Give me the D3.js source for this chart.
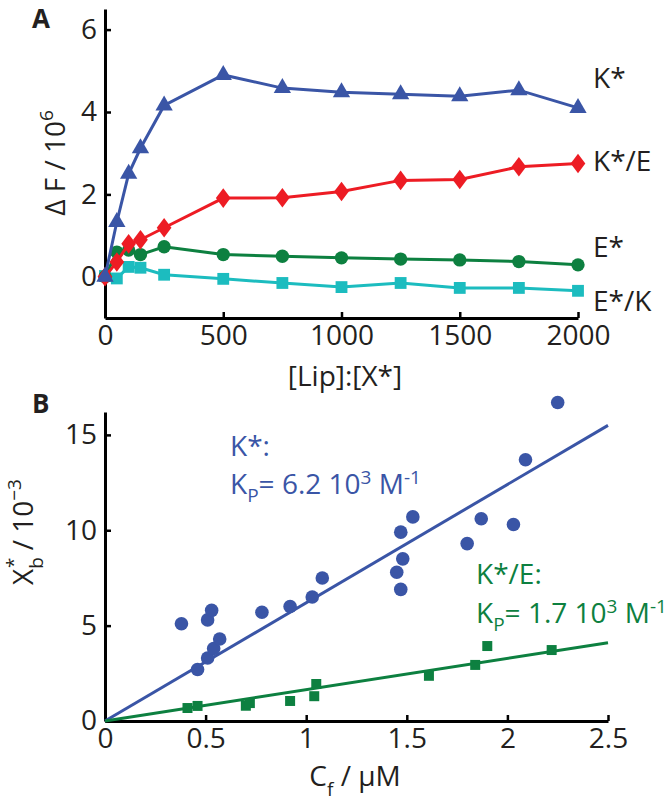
<!DOCTYPE html>
<html>
<head>
<meta charset="utf-8">
<script src="https://cdn.jsdelivr.net/npm/d3@7"></script>
<style>
  body { margin: 0; background: #fff; }
  text { font-family: "Open Sans", sans-serif; fill: #231f20; }
</style>
</head>
<body>
<svg id="fig" width="666" height="804"></svg>
<script>
// panel A: fluorescence change vs lipid ratio
const lipRatio = [0, 50, 100, 150, 250, 500, 750, 1000, 1250, 1500, 1750, 2000];
const kStar  = [0, 1.33, 2.5, 3.12, 4.16, 4.9, 4.58, 4.48, 4.43, 4.38, 4.53, 4.1];
const kStarE = [0, 0.36, 0.8, 0.9, 1.19, 1.91, 1.92, 2.07, 2.34, 2.36, 2.67, 2.75];
const eStar  = [0, 0.6, 0.65, 0.54, 0.73, 0.54, 0.5, 0.46, 0.43, 0.41, 0.37, 0.29];
const eStarK = [0.02, -0.04, 0.24, 0.22, 0.05, -0.05, -0.15, -0.25, -0.15, -0.27, -0.27, -0.34];
const ticksA_x = [0, 500, 1000, 1500, 2000];
const ticksA_y = [0, 2, 4, 6];

// panel B: bound fraction vs free concentration
const cfK  = [0.38, 0.46, 0.51, 0.51, 0.53, 0.54, 0.57, 0.78, 0.92, 1.03, 1.08, 1.45, 1.47, 1.47, 1.48, 1.53, 1.8, 1.87, 2.03, 2.09, 2.25];
const xbK  = [5.1, 2.7, 3.3, 5.3, 5.8, 3.8, 4.3, 5.7, 6.0, 6.5, 7.5, 7.8, 6.9, 9.9, 8.5, 10.7, 9.3, 10.6, 10.3, 13.7, 16.7];
const cfKE = [0.41, 0.46, 0.7, 0.72, 0.92, 1.04, 1.05, 1.61, 1.84, 1.9, 2.22];
const xbKE = [0.68, 0.79, 0.8, 0.94, 1.05, 1.3, 1.94, 2.37, 2.94, 3.93, 3.72];
const fitX = [0, 2.5];
const fitK = [0, 15.5];
const fitKE = [0, 4.1];
const ticksB_x = [0, 0.5, 1, 1.5, 2, 2.5];
const ticksB_y = [0, 5, 10, 15];

const blue = "#3a55a6", red = "#ed1c24", green = "#0d8040", cyan = "#1cbcbf";
const fs = 28, fsSmall = 19;

const svg = d3.select("#fig");

// custom tall diamond like the matlab one
const tallDiamond = {
  draw(ctx, size) {
    const h = Math.sqrt(size) * 0.8, w = h * 0.75;
    ctx.moveTo(0, -h); ctx.lineTo(w, 0); ctx.lineTo(0, h); ctx.lineTo(-w, 0); ctx.closePath();
  }
};

function styleAxis(g) {
  g.select(".domain").attr("stroke", "#000").attr("stroke-width", 3);
  g.selectAll(".tick line").attr("stroke", "#000").attr("stroke-width", 2.5);
  g.selectAll(".tick text").attr("font-family", "Open Sans").attr("font-size", fs).attr("fill", "#231f20");
}

// ---------- A ----------
const xA = d3.scaleLinear().domain([0, 2000]).range([105, 578]);
const yA = d3.scaleLinear().domain([-1, 6.5]).range([318, 9]);

const gA = svg.append("g");
gA.append("g").attr("transform", "translate(0,318)")
  .call(d3.axisBottom(xA).tickValues(ticksA_x).tickFormat(d3.format("d")).tickSizeInner(-6).tickSizeOuter(0).tickPadding(7))
  .call(styleAxis);
gA.append("g").attr("transform", "translate(105,0)")
  .call(d3.axisLeft(yA).tickValues(ticksA_y).tickSizeInner(-6).tickSizeOuter(0).tickPadding(8))
  .call(styleAxis);

const seriesA = [
  { vals: eStarK, color: cyan, sym: d3.symbolSquare, size: 140, label: "E*/K", ly: 311 },
  { vals: eStar, color: green, sym: d3.symbolCircle, size: 140, label: "E*", ly: 257 },
  { vals: kStarE, color: red, sym: tallDiamond, size: 150, label: "K*/E", ly: 171 },
  { vals: kStar, color: blue, sym: d3.symbolTriangle, size: 130, label: "K*", ly: 88 }
];

const lineA = d3.line().x((d, i) => xA(lipRatio[i])).y(d => yA(d));

seriesA.forEach(s => {
  gA.append("path").attr("d", lineA(s.vals))
    .attr("fill", "none").attr("stroke", s.color).attr("stroke-width", 3);
  gA.selectAll(null).data(s.vals).join("path")
    .attr("transform", (d, i) => `translate(${xA(lipRatio[i])},${yA(d)})`)
    .attr("d", d3.symbol().type(s.sym).size(s.size))
    .attr("fill", s.color);
  gA.append("text").attr("x", 593).attr("y", s.ly)
    .attr("font-size", fs).text(s.label);
});

gA.append("text").attr("x", 345).attr("y", 386).attr("text-anchor", "middle")
  .attr("font-size", fs).text("[Lip]:[X*]");

const ylabA = gA.append("text").attr("transform", "translate(65,163) rotate(-90)")
  .attr("text-anchor", "middle").attr("font-size", fs);
ylabA.append("tspan").text("Δ F / 10");
ylabA.append("tspan").attr("dy", -12).attr("font-size", fsSmall).text("6");

svg.append("text").attr("x", 32).attr("y", 28).attr("font-family", "Liberation Sans")
  .attr("font-weight", "bold").attr("font-size", 26).text("A");

// ---------- B ----------
const xB = d3.scaleLinear().domain([0, 2.5]).range([105, 608]);
const yB = d3.scaleLinear().domain([0, 16.2]).range([721, 412]);

const gB = svg.append("g");
gB.append("g").attr("transform", "translate(0,721)")
  .call(d3.axisBottom(xB).tickValues(ticksB_x).tickFormat(d3.format("")).tickSizeInner(-6).tickSizeOuter(0).tickPadding(7))
  .call(styleAxis);
gB.append("g").attr("transform", "translate(105,0)")
  .call(d3.axisLeft(yB).tickValues(ticksB_y).tickSizeInner(-6).tickSizeOuter(0).tickPadding(8))
  .call(styleAxis);

const lineB = d3.line().x((d, i) => xB(fitX[i])).y(d => yB(d));
gB.append("path").attr("d", lineB(fitK)).attr("fill", "none").attr("stroke", blue).attr("stroke-width", 3);
gB.append("path").attr("d", lineB(fitKE)).attr("fill", "none").attr("stroke", green).attr("stroke-width", 3);

gB.selectAll(".dotK").data(xbK).join("circle").attr("class", "dotK")
  .attr("cx", (d, i) => xB(cfK[i])).attr("cy", d => yB(d)).attr("r", 6.8).attr("fill", blue);
gB.selectAll(".sqKE").data(xbKE).join("path").attr("class", "sqKE")
  .attr("transform", (d, i) => `translate(${xB(cfKE[i])},${yB(d)})`)
  .attr("d", d3.symbol().type(d3.symbolSquare).size(100)).attr("fill", green);

function kpLabel(x, y, value, color) {
  const t = gB.append("text").attr("x", x).attr("y", y).attr("font-size", fs).style("fill", color);
  t.append("tspan").text("K");
  t.append("tspan").attr("dy", 8).attr("font-size", fsSmall).text("P");
  t.append("tspan").attr("dy", -8).text("= " + value + " 10");
  t.append("tspan").attr("dy", -10).attr("font-size", fsSmall).text("3");
  t.append("tspan").attr("dy", 10).text(" M");
  t.append("tspan").attr("dy", -10).attr("font-size", fsSmall).text("-1");
}
gB.append("text").attr("x", 230).attr("y", 456).attr("font-size", fs).style("fill", blue).text("K*:");
kpLabel(230, 494, "6.2", blue);
gB.append("text").attr("x", 476).attr("y", 584).attr("font-size", fs).style("fill", green).text("K*/E:");
kpLabel(476, 623, "1.7", green);

const xlabB = gB.append("text").attr("x", 355).attr("y", 786).attr("text-anchor", "middle").attr("font-size", fs);
xlabB.append("tspan").text("C");
xlabB.append("tspan").attr("dy", 10).attr("font-size", fsSmall).text("f");
xlabB.append("tspan").attr("dy", -10).text(" / μM");

const ylabB = gB.append("text").attr("transform", "translate(33,532) rotate(-90)")
  .attr("text-anchor", "middle").attr("font-size", fs);
ylabB.append("tspan").text("X");
ylabB.append("tspan").attr("dy", 10).attr("font-size", fsSmall).text("b");
ylabB.append("tspan").attr("dy", -23).attr("dx", -11).attr("font-size", fsSmall).text("*");
ylabB.append("tspan").attr("dy", 13).text(" / 10");
ylabB.append("tspan").attr("dy", -12).attr("font-size", fsSmall).text("−3");

svg.append("text").attr("x", 32).attr("y", 413).attr("font-family", "Liberation Sans")
  .attr("font-weight", "bold").attr("font-size", 26).text("B");
</script>
</body>
</html>
